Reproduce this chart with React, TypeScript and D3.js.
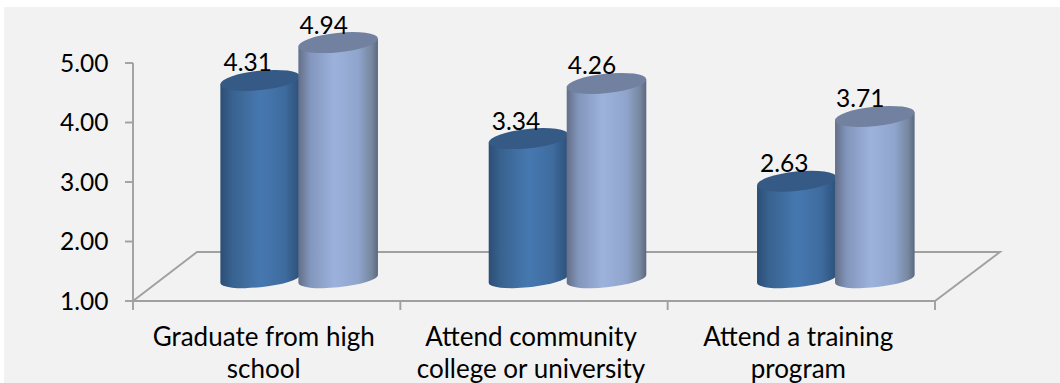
import React from "react";
import * as d3 from "d3";

// Survey scores per outcome, plotted as paired 3D cylinders.
const categories = ["Graduate from high school", "Attend community college or university", "Attend a training program"];
const categoryLines = [["Graduate from high", "school"], ["Attend community", "college or university"], ["Attend a training", "program"]];
const firstSeries = [4.31, 3.34, 2.63];
const secondSeries = [4.94, 4.26, 3.71];
const yTicks = [1, 2, 3, 4, 5];

const W = 1060;
const H = 383;
const FONT = "Lato, 'Open Sans', sans-serif";
const AXIS = "#a0a0a0";
const AXIS_WIDTH = 1.9;

// Front-plane axis scale and the slightly raised scale the cylinder floors sit on.
const yAxis = d3.scaleLinear().domain([1, 5]).range([301, 63]);
const yBar = d3.scaleLinear().domain([1, 5]).range([279, 39]);
const xBand = d3.scaleBand<string>().domain(categories).range([133, 935]);
// The pairs stand on the floor plane, which is pushed right of the front axis.
const xFloor = d3.scaleBand<string>().domain(categories).range([165, 970]);

const RX = 40;
const RY_TOP = 9.7;
const RY_BASE = 8.2;
const TILT = -6;

function tangentOffset(ry: number) {
  const th = (TILT * Math.PI) / 180;
  const t = Math.atan(-(ry / RX) * Math.tan(th));
  return {
    dx: RX * Math.cos(t) * Math.cos(th) - ry * Math.sin(t) * Math.sin(th),
    dy: RX * Math.cos(t) * Math.sin(th) + ry * Math.sin(t) * Math.cos(th),
  };
}

function Cylinder({ cx, value, body, top }: { cx: number; value: number; body: string; top: string }) {
  const yTop = yBar(value);
  const yBase = yBar(1);
  const t = tangentOffset(RY_TOP);
  const b = tangentOffset(RY_BASE);
  const sideD =
    `M${cx - t.dx},${yTop - t.dy}L${cx - b.dx},${yBase - b.dy}` +
    `A${RX},${RY_BASE} ${TILT} 0 0 ${cx + b.dx},${yBase + b.dy}` +
    `L${cx + t.dx},${yTop + t.dy}Z`;
  return (
    <g>
      <path d={sideD} fill={`url(#${body})`} />
      <ellipse rx={RX} ry={RY_TOP} fill={top} transform={`translate(${cx},${yTop}) rotate(${TILT})`} />
    </g>
  );
}

export default function App() {
  const style: React.CSSProperties = { position: "absolute", left: 0, top: 0, display: "block" };
  const floorBack = 252;
  const bandEdges = categories.map((c) => xBand(c) as number).concat(935);
  return (
    <svg width={W} height={H} viewBox={`0 0 ${W} ${H}`} style={style} fontFamily={FONT} fill="#000">
      <defs>
        <linearGradient id="darkBody" x1="0" x2="1" y1="0" y2="0">
          <stop offset="0" stopColor="#2c4e75" />
          <stop offset="0.15" stopColor="#38628f" />
          <stop offset="0.5" stopColor="#4678b0" />
          <stop offset="0.8" stopColor="#3f6c9f" />
          <stop offset="1" stopColor="#2d5079" />
        </linearGradient>
        <linearGradient id="lightBody" x1="0" x2="1" y1="0" y2="0">
          <stop offset="0" stopColor="#646f88" />
          <stop offset="0.15" stopColor="#8396bc" />
          <stop offset="0.45" stopColor="#9cb2dc" />
          <stop offset="0.75" stopColor="#90a5cd" />
          <stop offset="0.92" stopColor="#76879f" />
          <stop offset="1" stopColor="#5c6880" />
        </linearGradient>
      </defs>
      <rect x={4} y={7} width={W - 4} height={H - 7} fill="#f2f2f2" />

      {/* Floor outline */}
      <path
        d={`M${xBand.range()[0]},${yAxis(1)}L197,${floorBack}L1000,${floorBack}L${xBand.range()[1]},${yAxis(1)}Z`}
        fill="none"
        stroke={AXIS}
        strokeWidth={AXIS_WIDTH}
      />

      {/* Value axis */}
      <line x1={133} x2={133} y1={yAxis(5)} y2={yAxis(1)} stroke={AXIS} strokeWidth={AXIS_WIDTH} />
      {yTicks.map((t) => (
        <g key={t}>
          <line x1={125} x2={133} y1={yAxis(t)} y2={yAxis(t)} stroke={AXIS} strokeWidth={AXIS_WIDTH} />
          <text x={108.5} y={yAxis(t) + 8.5} fontSize={24.5} textAnchor="end">
            {d3.format(".2f")(t)}
          </text>
        </g>
      ))}

      {/* Category ticks */}
      {bandEdges.map((x) => (
        <line key={x} x1={x} x2={x} y1={301} y2={310} stroke={AXIS} strokeWidth={AXIS_WIDTH} />
      ))}

      {/* Cylinders */}
      {categories.map((c, i) => {
        const mid = (xFloor(c) as number) + xFloor.bandwidth() / 2;
        const a = mid - 39;
        const b = mid + 39;
        return (
          <g key={c}>
            <Cylinder cx={a} value={firstSeries[i]} body="darkBody" top="#355a86" />
            <Cylinder cx={b} value={secondSeries[i]} body="lightBody" top="#71819f" />
            <text x={a - 12.5} y={yBar(firstSeries[i]) - 9} fontSize={24.5} textAnchor="middle">
              {d3.format(".2f")(firstSeries[i])}
            </text>
            <text x={b - 14.5} y={yBar(secondSeries[i]) - 9} fontSize={24.5} textAnchor="middle">
              {d3.format(".2f")(secondSeries[i])}
            </text>
          </g>
        );
      })}

      {/* Category labels */}
      {categories.map((c, i) => (
        <text key={c} fontSize={26} textAnchor="middle">
          {categoryLines[i].map((line, j) => (
            <tspan key={line} x={(xBand(c) as number) + xBand.bandwidth() / 2 - 3} y={345.5 + j * 32.5}>
              {line}
            </tspan>
          ))}
        </text>
      ))}
    </svg>
  );
}
